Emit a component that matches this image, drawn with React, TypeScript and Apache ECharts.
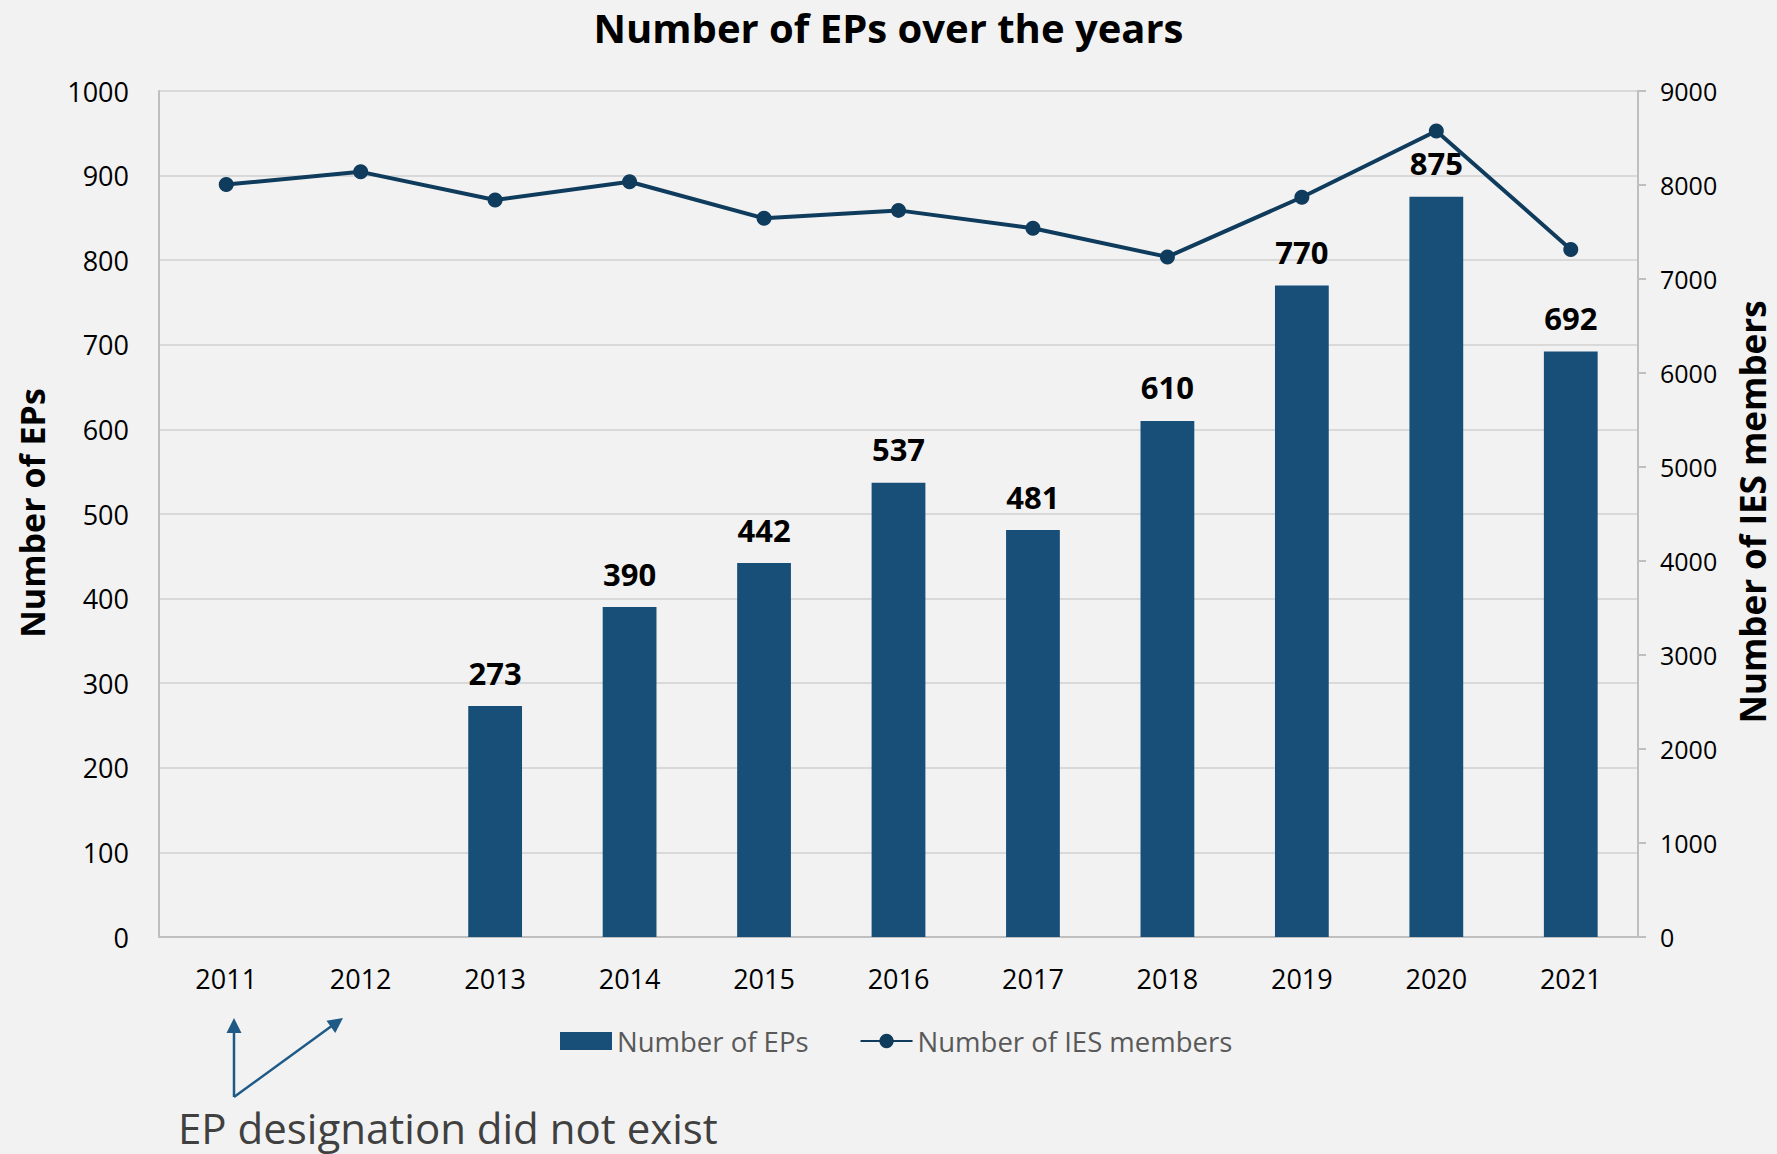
import React, { useEffect, useRef } from "react";
import * as echarts from "echarts";

const years = ["2011", "2012", "2013", "2014", "2015", "2016", "2017", "2018", "2019", "2020", "2021"];
const epCounts: (number | null)[] = [null, null, 273, 390, 442, 537, 481, 610, 770, 875, 692];
const iesMembers = [8005, 8140, 7840, 8035, 7645, 7730, 7540, 7235, 7870, 8575, 7315];

const FONT = "'Open Sans', 'Noto Sans', sans-serif";
const BAR = "#174F78";
const LINE = "#0F3B5C";
const ARROW = "#1F5A87";

function arrowHead(tip: [number, number], from: [number, number], len: number, half: number) {
  const dx = tip[0] - from[0];
  const dy = tip[1] - from[1];
  const l = Math.sqrt(dx * dx + dy * dy);
  const ux = dx / l, uy = dy / l;
  const bx = tip[0] - ux * len, by = tip[1] - uy * len;
  return [
    [tip[0], tip[1]],
    [bx - uy * half, by + ux * half],
    [bx + uy * half, by - ux * half],
  ];
}

const plain = (v: number) => String(v);

export default function App() {
  const ref = useRef<HTMLDivElement>(null);
  useEffect(() => {
    document.body.style.margin = "0";
    document.body.style.background = "#F2F2F2";
    const chart = echarts.init(ref.current!, undefined, { renderer: "svg" });
    const origin: [number, number] = [234, 1097];
    const tip1: [number, number] = [234, 1018];
    const tip2: [number, number] = [343, 1018];
    chart.setOption({
      animation: false,
      backgroundColor: "#F2F2F2",
      textStyle: { fontFamily: FONT },
      title: {
        text: "Number of EPs over the years",
        left: "center",
        top: 7,
        padding: 0,
        textStyle: { fontFamily: FONT, fontSize: 40, fontWeight: "bold", color: "#000" },
      },
      grid: { left: 159, right: 139, top: 91, bottom: 217, containLabel: false },
      legend: {
        left: 555,
        top: 1022,
        itemWidth: 52,
        itemHeight: 18,
        itemGap: 51,
        textStyle: { fontFamily: FONT, fontSize: 27.5, color: "#595959", padding: [0, 0, 0, 0] },
        data: [
          { name: "Number of EPs", icon: "rect" },
          { name: "Number of IES members" },
        ],
      },
      xAxis: {
        type: "category",
        data: years,
        axisLine: { show: true, lineStyle: { color: "#BFBFBF", width: 2 } },
        axisTick: { show: false },
        axisLabel: { fontFamily: FONT, fontSize: 27, color: "#000", margin: 28 },
      },
      yAxis: [
        {
          type: "value",
          min: 0,
          max: 1000,
          interval: 100,
          position: "left",
          axisLine: { show: true, lineStyle: { color: "#BFBFBF", width: 2 } },
          axisTick: { show: false },
          axisLabel: { fontFamily: FONT, fontSize: 27, color: "#000", margin: 30, formatter: plain },
          splitLine: { show: true, lineStyle: { color: "#D9D9D9", width: 2 } },
        },
        {
          type: "value",
          min: 0,
          max: 9000,
          interval: 1000,
          position: "right",
          axisLine: { show: true, lineStyle: { color: "#BFBFBF", width: 2 } },
          axisTick: { show: true, length: 8, lineStyle: { color: "#BFBFBF", width: 2 } },
          axisLabel: { fontFamily: FONT, fontSize: 25, color: "#000", margin: 22, formatter: plain },
          splitLine: { show: false },
        },
      ],
      series: [
        {
          name: "Number of EPs",
          type: "bar",
          data: epCounts,
          yAxisIndex: 0,
          barWidth: "40%",
          itemStyle: { color: BAR },
          label: {
            show: true,
            position: "top",
            distance: 18,
            fontFamily: FONT,
            fontSize: 31,
            fontWeight: "bold",
            color: "#000",
          },
          z: 2,
        },
        {
          name: "Number of IES members",
          type: "line",
          data: iesMembers,
          yAxisIndex: 1,
          symbol: "circle",
          symbolSize: 15,
          lineStyle: { color: LINE, width: 4 },
          itemStyle: { color: LINE },
          z: 3,
        },
      ],
      graphic: [
        {
          type: "text",
          x: 32,
          y: 513,
          rotation: Math.PI / 2,
          style: {
            text: "Number of EPs",
            fontFamily: FONT,
            fontSize: 34,
            fontWeight: "bold",
            fill: "#000",
            align: "center",
            verticalAlign: "middle",
          },
        },
        {
          type: "text",
          x: 1752,
          y: 512,
          rotation: Math.PI / 2,
          style: {
            text: "Number of IES members",
            fontFamily: FONT,
            fontSize: 35,
            fontWeight: "bold",
            fill: "#000",
            align: "center",
            verticalAlign: "middle",
          },
        },
        {
          type: "line",
          shape: { x1: origin[0], y1: origin[1], x2: tip1[0], y2: tip1[1] + 12 },
          style: { stroke: ARROW, lineWidth: 2.5 },
        },
        {
          type: "polygon",
          shape: { points: arrowHead(tip1, origin, 15, 7.5) },
          style: { fill: ARROW },
        },
        {
          type: "line",
          shape: { x1: origin[0], y1: origin[1], x2: tip2[0] - 10, y2: tip2[1] + 7 },
          style: { stroke: ARROW, lineWidth: 2.5 },
        },
        {
          type: "polygon",
          shape: { points: arrowHead(tip2, origin, 15, 7.5) },
          style: { fill: ARROW },
        },
        {
          type: "text",
          x: 178,
          y: 1127,
          style: {
            text: "EP designation did not exist",
            fontFamily: FONT,
            fontSize: 42,
            fill: "#404040",
            align: "left",
            verticalAlign: "middle",
          },
        },
      ],
    });
    return () => chart.dispose();
  }, []);
  return <div ref={ref} style={{ width: 1777, height: 1154 }} />;
}
